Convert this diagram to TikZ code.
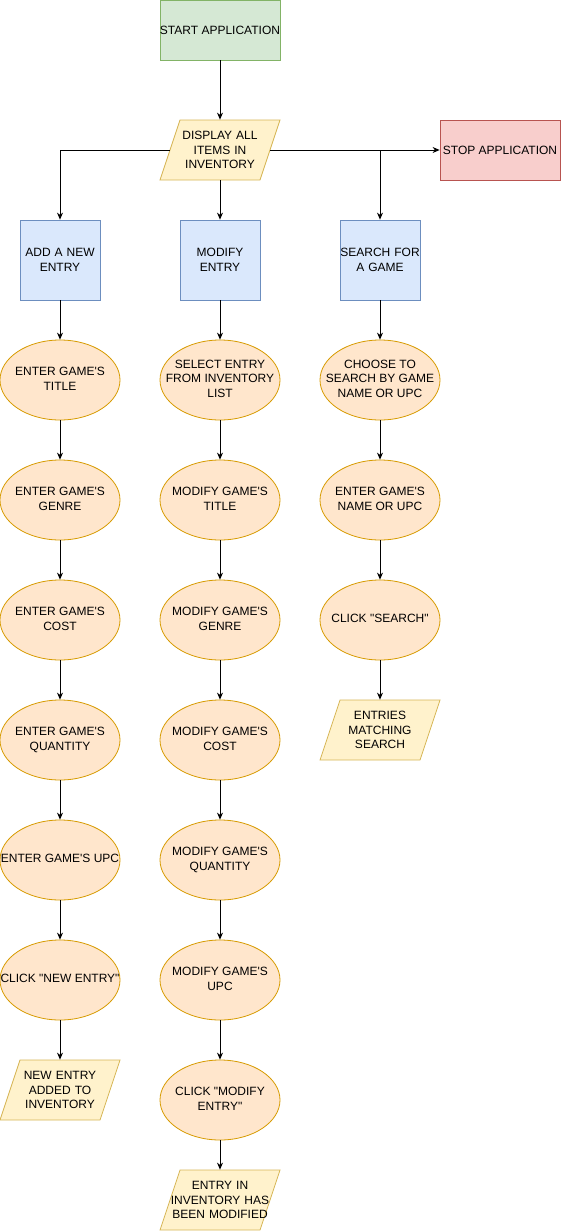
\documentclass[tikz,border=0pt]{standalone}
\usepackage{fontspec}
\setmainfont{Liberation Sans}[Ligatures=TeXOff]
\usetikzlibrary{arrows.meta,shapes.geometric}
\definecolor{gfill}{HTML}{D5E8D4}\definecolor{gline}{HTML}{82B366}
\definecolor{rfill}{HTML}{F8CECC}\definecolor{rline}{HTML}{B85450}
\definecolor{bfill}{HTML}{DAE8FC}\definecolor{bline}{HTML}{6C8EBF}
\definecolor{yfill}{HTML}{FFF2CC}\definecolor{yline}{HTML}{D6B656}
\definecolor{ofill}{HTML}{FFE6CC}\definecolor{oline}{HTML}{D79B00}
\tikzset{
  base/.style={align=center,inner sep=0pt,font=\fontsize{12}{14.4}\selectfont,line width=0.8pt},
  startbox/.style={base,draw=gline,fill=gfill,minimum width=120pt,minimum height=60pt,rectangle},
  stopbox/.style={base,draw=rline,fill=rfill,minimum width=120pt,minimum height=60pt,rectangle},
  actbox/.style={base,draw=bline,fill=bfill,minimum width=80pt,minimum height=80pt,rectangle,text width=80pt},
  ellbox/.style={base,draw=oline,fill=ofill,ellipse,minimum width=120pt,minimum height=80pt},
  paratext/.style={base,rectangle,minimum width=100pt,minimum height=60pt,text width=100pt},
  parashape/.style={draw=yline,fill=yfill,line width=0.8pt},
  conn/.style={line width=0.8pt,-{Stealth[length=7pt,width=6pt]}}
}
\newcommand{\et}[1]{\makebox[0pt]{\def\arraystretch{1}\setlength{\tabcolsep}{0pt}\begin{tabular}{c}#1\end{tabular}}}
\newcommand{\para}[4]{%
  \fill[parashape] (#2-60,#3+30) -- (#2-40,#3-30) -- (#2+60,#3-30) -- (#2+40,#3+30) -- cycle;
  \node[paratext] (#1) at (#2,#3) {#4};}
\begin{document}
\begin{tikzpicture}[x=1pt,y=-1pt]
\useasboundingbox (0,0) rectangle (561,1231);
\node[startbox] (start) at (220,30) {START APPLICATION};
\para{disp}{220}{150}{DISPLAY ALL\\ITEMS IN\\INVENTORY}
\node[stopbox] (stop) at (500,150) {STOP APPLICATION};
\node[actbox] (add) at (60,260) {ADD A NEW\\ENTRY};
\node[actbox] (mod) at (220,260) {MODIFY\\ENTRY};
\node[actbox] (srch) at (380,260) {SEARCH FOR\\A GAME};
% column 1
\node[ellbox] (a1) at (60,380) {\et{ENTER GAME'S\\TITLE}};
\node[ellbox] (a2) at (60,500) {\et{ENTER GAME'S\\GENRE}};
\node[ellbox] (a3) at (60,620) {\et{ENTER GAME'S\\COST}};
\node[ellbox] (a4) at (60,740) {\et{ENTER GAME'S\\QUANTITY}};
\node[ellbox] (a5) at (60,860) {\et{ENTER GAME'S UPC}};
\node[ellbox] (a6) at (60,980) {\et{CLICK "NEW ENTRY"}};
\para{a7}{60}{1090}{NEW ENTRY\\ADDED TO\\INVENTORY}
% column 2
\node[ellbox] (m1) at (220,380) {\et{SELECT ENTRY\\FROM INVENTORY\\LIST}};
\node[ellbox] (m2) at (220,500) {\et{MODIFY GAME'S\\TITLE}};
\node[ellbox] (m3) at (220,620) {\et{MODIFY GAME'S\\GENRE}};
\node[ellbox] (m4) at (220,740) {\et{MODIFY GAME'S\\COST}};
\node[ellbox] (m5) at (220,860) {\et{MODIFY GAME'S\\QUANTITY}};
\node[ellbox] (m6) at (220,980) {\et{MODIFY GAME'S\\UPC}};
\node[ellbox] (m7) at (220,1100) {\et{CLICK "MODIFY\\ENTRY"}};
\para{m8}{220}{1200}{ENTRY IN\\INVENTORY HAS\\BEEN MODIFIED}
% column 3
\node[ellbox] (s1) at (380,380) {\et{CHOOSE TO\\SEARCH BY GAME\\NAME OR UPC}};
\node[ellbox] (s2) at (380,500) {\et{ENTER GAME'S\\NAME OR UPC}};
\node[ellbox] (s3) at (380,620) {\et{CLICK "SEARCH"}};
\para{s4}{380}{730}{ENTRIES\\MATCHING\\SEARCH}
% connectors
\draw[conn] (start) -- (disp);
\draw[conn] (disp.west) -| (add.north);
\draw[conn] (disp) -- (mod);
\draw[conn] (disp.east) -| (srch.north);
\draw[conn] (disp.east) -- (stop.west);
\draw[conn] (add) -- (a1);
\draw[conn] (a1) -- (a2);
\draw[conn] (a2) -- (a3);
\draw[conn] (a3) -- (a4);
\draw[conn] (a4) -- (a5);
\draw[conn] (a5) -- (a6);
\draw[conn] (a6) -- (a7);
\draw[conn] (mod) -- (m1);
\draw[conn] (m1) -- (m2);
\draw[conn] (m2) -- (m3);
\draw[conn] (m3) -- (m4);
\draw[conn] (m4) -- (m5);
\draw[conn] (m5) -- (m6);
\draw[conn] (m6) -- (m7);
\draw[conn] (m7) -- (m8);
\draw[conn] (srch) -- (s1);
\draw[conn] (s1) -- (s2);
\draw[conn] (s2) -- (s3);
\draw[conn] (s3) -- (s4);
\end{tikzpicture}
\end{document}
